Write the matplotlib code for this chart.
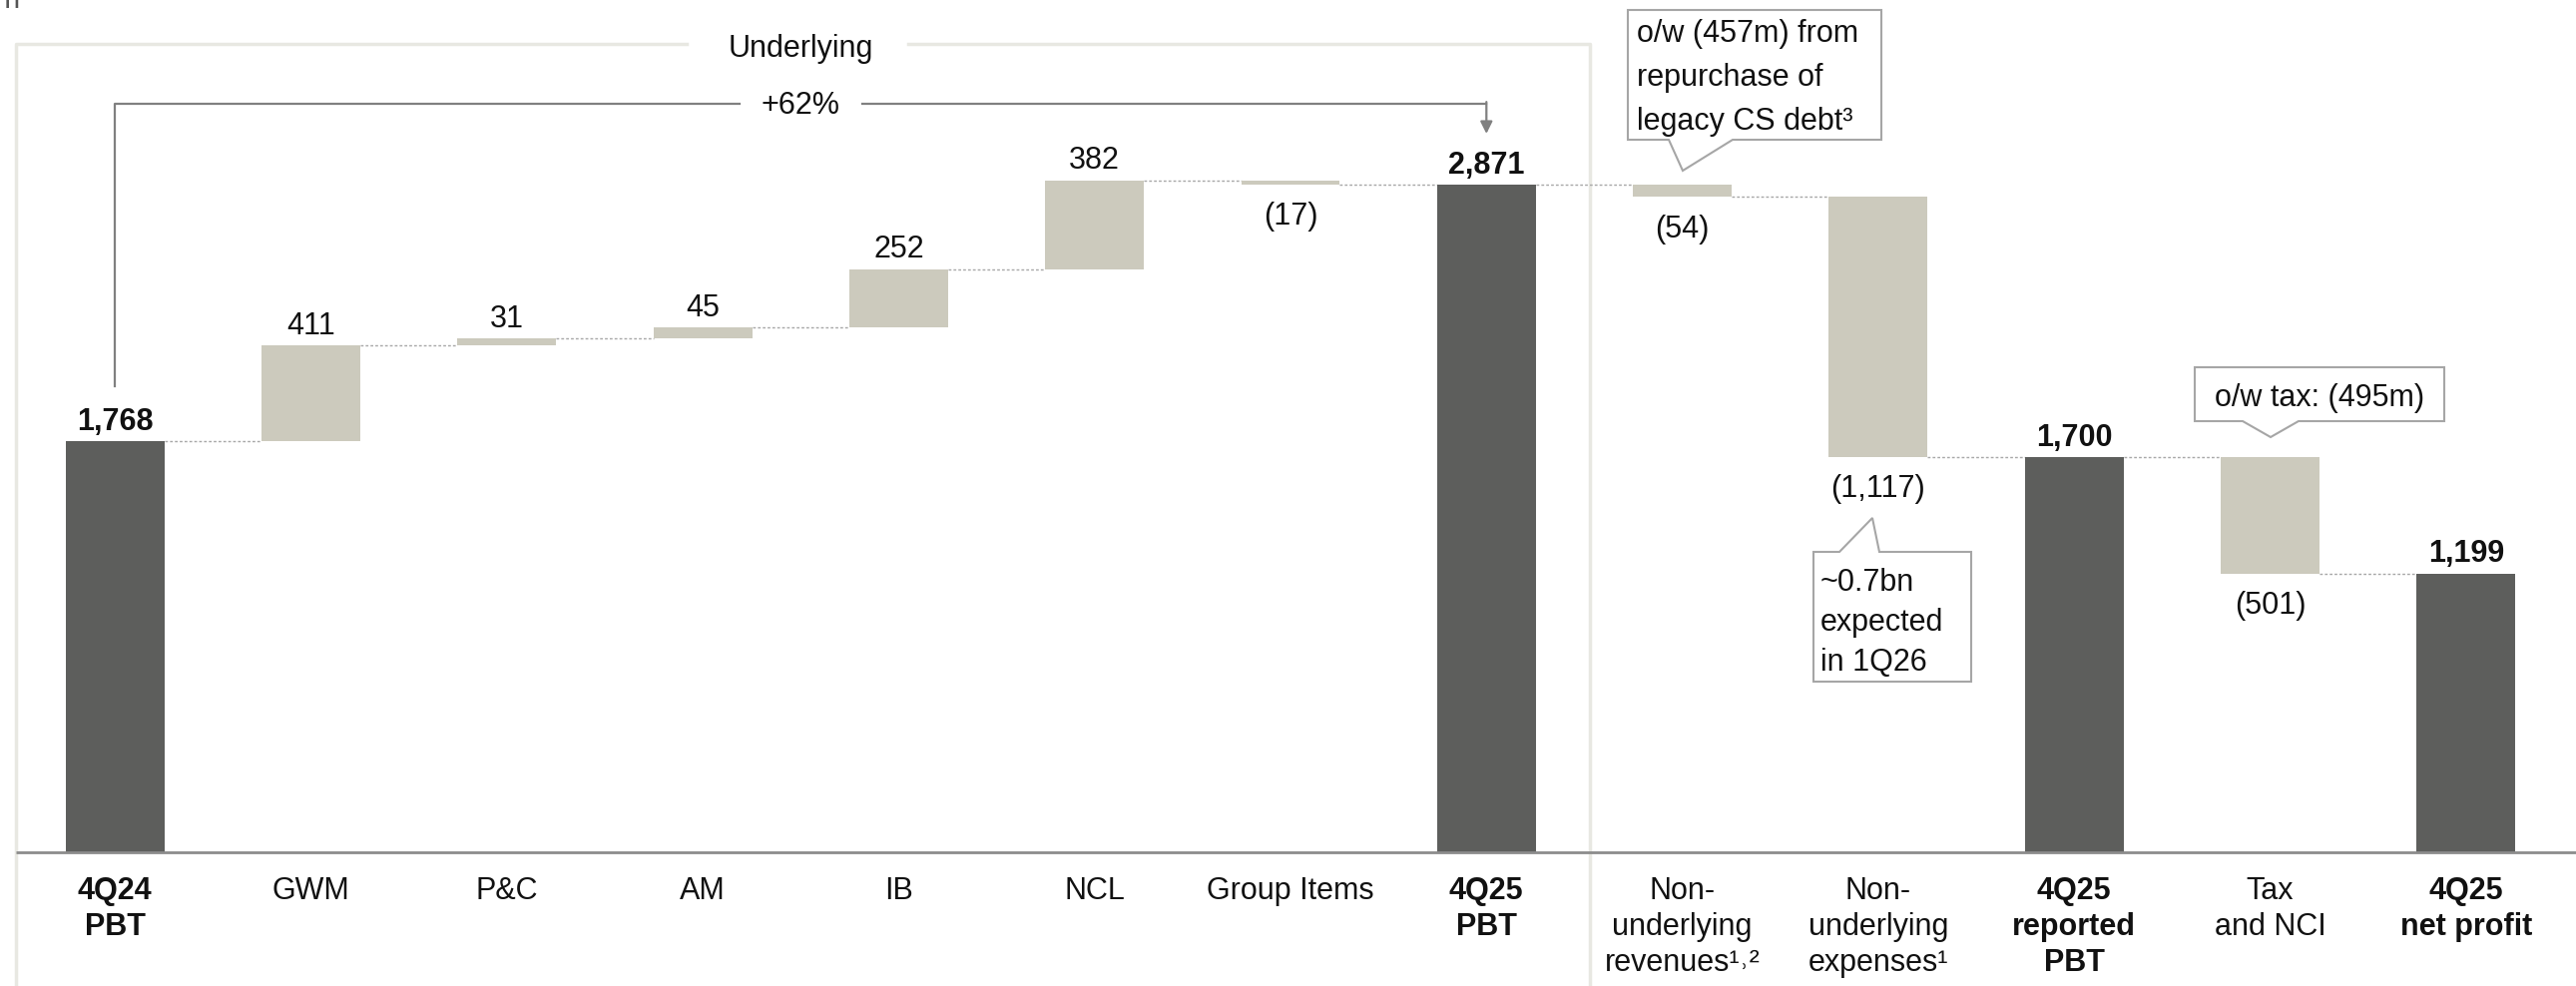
import matplotlib
matplotlib.use("Agg")
import matplotlib.pyplot as plt
from matplotlib.patches import Polygon
from matplotlib import font_manager

categories = ["4Q24\nPBT", "GWM", "P&C", "AM", "IB", "NCL", "Group Items", "4Q25\nPBT",
              "Non-\nunderlying\nrevenues\u00b9\u02d2\u00b2", "Non-\nunderlying\nexpenses\u00b9",
              "4Q25\nreported\nPBT", "Tax\nand NCI", "4Q25\nnet profit"]
values = [1768, 411, 31, 45, 252, 382, -17, 2871, -54, -1117, 1700, -501, 1199]
is_total = [True, False, False, False, False, False, False, True, False, False, True, False, True]
value_labels = ["1,768", "411", "31", "45", "252", "382", "(17)", "2,871", "(54)", "(1,117)",
                "1,700", "(501)", "1,199"]

callout_debt = "o/w (457m) from\nrepurchase of\nlegacy CS debt\u00b3"
callout_exp = "~0.7bn\nexpected\nin 1Q26"
callout_tax = "o/w tax: (495m)"

dark = "#5d5e5c"
light = "#cccabd"
frame_col = "#e8e8e2"
txt_col = "#111111"

# pick a narrow font if one is there
fam = "Liberation Sans Narrow"
try:
    font_manager.findfont(fam, fallback_to_default=False)
except Exception:
    fam = "Liberation Sans"
plt.rcParams["font.family"] = [fam, "DejaVu Sans"]
fs = 22

W, H = 2581, 988
x0, dx = 115.2, 196.3   # pixel centre of first bar, spacing
y0, upp = 854, 4.29     # pixel of zero line, units per pixel


def px(x):
    return (x - x0) / dx


def py(y):
    return (y0 - y) * upp


fig = plt.figure(figsize=(W / 100, H / 100), dpi=100)
ax = fig.add_axes([0, 0, 1, 1])
ax.set_xlim(px(0), px(W))
ax.set_ylim(py(H), py(0))
ax.axis("off")

# waterfall
running = 0
bottoms, tops = [], []
for i, v in enumerate(values):
    if is_total[i]:
        b = 0
        running = v
    else:
        b = running
        running = running + v
    bottoms.append(b)
    tops.append(b + v)
    ax.bar(i, v, bottom=b, width=0.504, color=dark if is_total[i] else light, zorder=3)

# dashed connectors
bw = 0.504 / 2
for i in range(len(values) - 1):
    lvl = tops[i]
    ax.plot([i + bw, i + 1 - bw], [lvl, lvl], ls=(0, (2, 1.5)), color="#a8a8a8", lw=1, zorder=2)

# value labels
for i, v in enumerate(values):
    w = "bold" if is_total[i] else "normal"
    if v >= 0:
        ax.text(i, max(bottoms[i], tops[i]) + 18, value_labels[i], ha="center", va="bottom",
                fontsize=fs, fontweight=w, color=txt_col, zorder=5)
    else:
        ax.text(i, min(bottoms[i], tops[i]) - 76, value_labels[i], ha="center", va="top",
                fontsize=fs, fontweight=w, color=txt_col, zorder=5)

# category labels
for i, c in enumerate(categories):
    ax.text(i, py(878), c, ha="center", va="top", fontsize=fs, linespacing=1.27,
            fontweight="bold" if is_total[i] else "normal", color=txt_col)

# zero line
ax.plot([px(16), px(W)], [0, 0], color="#8c8c8c", lw=2, zorder=4, solid_capstyle="butt")

# underlying frame
left, right, top = px(16), px(1593), py(44)
ax.plot([left, left, px(688)], [py(H), top, top], color=frame_col, lw=2.5, zorder=1)
ax.plot([px(910), right, right], [top, top, py(H)], color=frame_col, lw=2.5, zorder=1)
ax.text(3.5, py(49), "Underlying", ha="center", va="center", fontsize=fs, color=txt_col)

# +62% bracket
yb = py(104)
ax.plot([0, 0, px(741)], [py(387), yb, yb], color="#808080", lw=1.6)
ax.plot([px(864), 7], [yb, yb], color="#808080", lw=1.6)
ax.annotate("", xy=(7, py(134)), xytext=(7, yb + 8),
            arrowprops=dict(arrowstyle="-|>", color="#808080", lw=1.6, mutation_scale=18,
                            shrinkA=0, shrinkB=0))
ax.text(3.5, py(106), "+62%", ha="center", va="center", fontsize=fs, color=txt_col)


def callout(box, base, tip, down=True):
    l, t, r, b = box
    if down:
        pts = [(l, t), (r, t), (r, b), (base[1], b), tip, (base[0], b), (l, b)]
    else:
        pts = [(l, b), (l, t), (base[0], t), tip, (base[1], t), (r, t), (r, b)]
    pts = [(px(x), py(y)) for x, y in pts]
    ax.add_patch(Polygon(pts, closed=True, facecolor="white", edgecolor="#a6a6a6", lw=1.5, zorder=6))


callout((1631, 10, 1885, 140), (1672, 1736), (1686, 171), down=True)
ax.text(px(1640), py(78), callout_debt, ha="left", va="center", fontsize=fs, linespacing=1.62,
        color=txt_col, zorder=7)
callout((1817, 553, 1975, 683), (1843, 1883), (1876, 519), down=False)
ax.text(px(1824), py(624), callout_exp, ha="left", va="center", fontsize=fs, linespacing=1.42,
        color=txt_col, zorder=7)
callout((2199, 368, 2449, 422), (2247, 2303), (2275, 438), down=True)
ax.text(px(2324), py(399), callout_tax, ha="center", va="center", fontsize=fs,
        color=txt_col, zorder=7)

# unit text cut off at top-left
ax.text(px(20), py(8), "USD m", ha="right", va="baseline", fontsize=fs, color="#555555")

fig.savefig("out.png", dpi=100)
